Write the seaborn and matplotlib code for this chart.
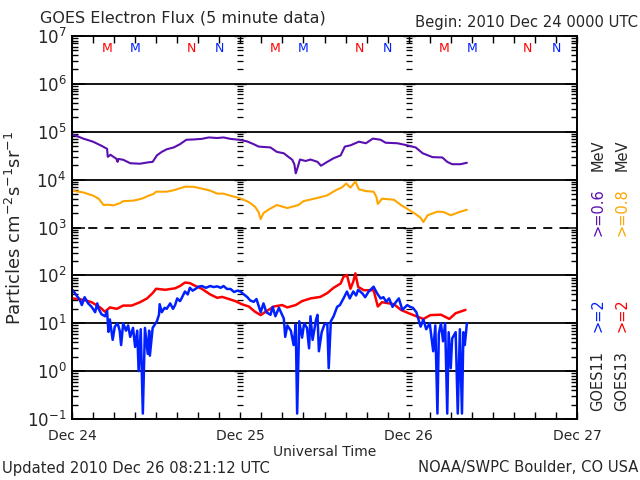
import numpy as np
import pandas as pd
import matplotlib
matplotlib.use("Agg")
import matplotlib.pyplot as plt
import matplotlib.transforms as mtransforms
from matplotlib.ticker import LogLocator, NullFormatter, FixedLocator, FixedFormatter
import seaborn as sns

# ---------------- data (hours since 2010 Dec 24 00:00 UTC) ----------------
purple_t = [0, 1.6, 3.0, 4.2, 5.0, 5.1, 5.5, 5.9, 6.3, 6.5, 6.6, 7.3, 8.3, 9.7, 10.9, 11.5, 12.1,
            12.8, 13.5, 14.5, 15.4, 16.3, 17.3, 18.5, 19.5, 20.7, 21.6, 22.6, 23.8, 24.95, 25.9,
            26.6, 28.3, 29.2, 30.2, 30.9, 31.4, 31.7, 31.9, 32.2, 32.5, 33.3, 34.0, 35.0, 35.5,
            36.4, 37.3, 38.3, 38.9, 39.7, 40.9, 41.9, 42.9, 44.0, 44.7, 46.4, 47.8, 49.0, 50.0,
            51.4, 52.8, 53.5, 54.2, 55.4, 56.3]
purple_v = [89000, 72000, 62000, 51000, 44000, 30000, 33000, 30000, 27500, 23500, 27000, 26000,
            22000, 21500, 23000, 23500, 32000, 38000, 43000, 47000, 55000, 68000, 69000, 71000,
            76000, 74000, 76000, 71000, 68000, 63000, 55000, 49000, 47000, 38000, 35500, 29500,
            26000, 21000, 13500, 18500, 26300, 24500, 26300, 23500, 19500, 23500, 28000, 32000,
            49000, 52000, 62000, 57500, 72000, 68000, 59000, 57500, 52000, 47000, 35500, 29500,
            29000, 23500, 21000, 21000, 22500]

orange_t = [0, 1.6, 3.05, 3.8, 4.5, 5.1, 5.9, 6.9, 7.3, 8.8, 9.95, 10.9, 11.6, 12.0, 13.5, 14.5,
            15.4, 16.1, 17.3, 18.5, 19.7, 20.7, 21.6, 22.6, 23.8, 24.95, 25.4, 26.1, 26.6, 26.9,
            27.3, 28.0, 29.2, 30.7, 32.3, 33.0, 35.0, 36.4, 37.6, 38.5, 39.1, 39.7, 40.4, 40.9,
            41.9, 43.0, 43.4, 43.6, 44.2, 45.9, 46.9, 48.0, 49.0, 49.7, 50.1, 50.7, 52.1, 53.0,
            54.0, 55.2, 56.3]
orange_v = [5900, 5400, 4600, 4000, 2950, 3000, 2900, 3250, 3550, 3650, 4000, 4600, 5000, 5600,
            5600, 6000, 6600, 7100, 7100, 6500, 5900, 5100, 5100, 4600, 4150, 3550, 3250, 2700,
            2100, 1500, 2000, 2350, 2950, 2550, 2950, 3550, 4150, 4700, 6000, 6900, 8300, 6800,
            9100, 6300, 5750, 5600, 4350, 3100, 4000, 3800, 2950, 2350, 1900, 1600, 1300, 1800,
            2150, 2100, 1800, 2100, 2350]

red_t = [0.1, 1.6, 2.8, 4.0, 4.7, 5.4, 6.4, 7.3, 8.5, 9.7, 10.7, 11.5, 12.0, 13.3, 14.7, 15.4,
         16.1, 16.8, 17.6, 18.5, 19.7, 20.7, 21.4, 22.1, 23.3, 24.2, 25.2, 26.1, 26.9, 27.6, 28.8,
         29.95, 30.7, 31.9, 32.8, 34.0, 35.4, 36.4, 37.3, 38.3, 38.7, 39.2, 39.7, 40.1, 40.4,
         40.8, 41.6, 43.0, 43.6, 44.2, 45.9, 46.9, 48.0, 49.2, 50.1, 51.1, 52.6, 53.8, 54.7, 56.1]
red_v = [33, 31, 27.5, 21.4, 17.4, 21.4, 20, 23.4, 23.4, 27.5, 33, 42.7, 52.5, 50, 53.7, 60,
         70.8, 69, 60, 52.5, 40, 34, 35.5, 33, 29, 25, 22.4, 17.4, 14.8, 17.4, 22.4, 24, 21.4, 24,
         29, 33, 35.5, 42.7, 55, 67.6, 93, 102, 52.5, 74, 110, 57.5, 49, 49, 22.4, 27.5, 25, 19,
         16.2, 13.8, 12.3, 14.8, 15.1, 12.3, 16.2, 19]

blue_t = [0.1, 0.6, 1.1, 1.4, 1.8, 2.3, 2.8, 3.3, 3.6, 3.8, 4.2, 4.7, 5.0, 5.2, 5.4, 5.8, 6.1,
          6.5, 6.8, 7.0, 7.3, 7.7, 8.0, 8.3, 8.7, 9.0, 9.3, 9.5, 9.8, 10.1, 10.4, 10.8, 11.0,
          11.1, 11.5, 12.1, 12.4, 12.5, 12.8, 13.2, 13.5, 14.0, 14.4, 14.7, 15.0, 15.4, 15.7,
          16.1, 16.5, 16.8, 17.2, 17.6, 18.0, 18.5, 19.1, 19.7, 20.2, 20.7, 21.2, 21.6, 22.1,
          22.6, 23.1, 23.6, 24.0, 24.5, 25.0, 25.4, 25.9, 26.3, 26.9, 27.3, 27.7, 28.3, 28.6,
          29.0, 29.5, 30.2, 30.4, 30.7, 31.2, 31.6, 31.9, 32.1, 32.4, 32.8, 33.1, 33.5, 33.8,
          34.0, 34.3, 34.8, 35.0, 35.2, 35.6, 36.0, 36.4, 36.6, 36.9, 37.3, 37.8, 38.2, 38.8,
          39.2, 39.6, 40.1, 40.5, 40.8, 41.4, 41.8, 42.3, 43.0, 43.5, 44.0, 44.4, 44.8, 45.2,
          45.7, 46.2, 46.6, 47.1, 47.8, 48.2, 48.6, 49.1, 49.7, 50.1, 50.5, 51.0, 51.5, 51.8,
          52.1, 52.3, 52.6, 52.9, 53.2, 53.5, 53.7, 54.0, 54.2, 54.7, 55.0, 55.3, 55.6, 55.8,
          56.0, 56.3]
blue_v = [49, 39, 31, 24, 35, 26, 22, 17, 26, 20, 15.5, 14, 18, 6.6, 12, 4.5, 8.5, 10, 7, 3.5,
          10, 7, 9, 5.2, 8, 3.2, 7, 1.0, 7.5, 0.13, 8, 2.3, 7, 2.1, 8, 11, 15, 25, 17, 21, 20, 26,
          20, 24, 33, 29, 35, 46, 40, 55, 48, 52, 58, 60, 55, 60, 57, 59, 55, 60, 52, 52, 45, 48,
          46, 40, 35, 30, 28, 32, 17, 26, 17, 15, 22, 14, 21, 12.5, 5.2, 9, 7, 3.5, 9.5, 0.13,
          11, 5, 10, 8, 3, 14, 4.5, 12, 15, 2.6, 6.5, 9.5, 10, 1.15, 11, 14, 22, 24, 35, 46, 33,
          46, 38, 50, 42, 35, 46, 58, 42, 33, 35, 28, 33, 22, 28, 33, 19, 24, 22, 21, 17, 8.5, 12,
          7.5, 10, 2.6, 9, 0.13, 6, 10, 4.2, 10, 0.13, 6.5, 1.15, 4.8, 6.5, 0.13, 7.5, 0.13, 6.5,
          3.5, 10]

day_labels = ["Dec 24", "Dec 25", "Dec 26", "Dec 27"]
day_hours = [0, 24, 48, 72]
goes13_midnight = [5, 29, 53]
goes11_midnight = [9, 33, 57]
goes13_noon = [17, 41, 65]
goes11_noon = [21, 45, 69]

C_PURPLE = "#5a0fb0"
C_ORANGE = "#ffa500"
C_RED = "#ff0000"
C_BLUE = "#0020ff"

# ---------------- figure ----------------
sns.set_style("ticks")
plt.rcParams["font.family"] = ["DejaVu Sans"]

fig = plt.figure(figsize=(6.4, 4.8), dpi=100)
ax = fig.add_axes([72 / 640, 1 - 419 / 480, (577 - 72) / 640, (419 - 36) / 480])
ax.set_yscale("log")

series = [
    (purple_t, purple_v, C_PURPLE, 1.5),
    (orange_t, orange_v, C_ORANGE, 1.5),
    (red_t, red_v, C_RED, 1.8),
    (blue_t, blue_v, C_BLUE, 1.8),
]
for t, v, c, lw in series:
    df = pd.DataFrame({"t": t, "v": v})
    sns.lineplot(data=df, x="t", y="v", ax=ax, color=c, lw=lw, estimator=None, sort=False)

ax.set_xlim(0, 72)
ax.set_ylim(0.1, 1e7)

# horizontal reference lines
for d in [1e0, 1e1, 1e2, 1e4, 1e5, 1e6]:
    ax.axhline(d, color="black", lw=1.3, zorder=1)
ax.axhline(1e3, color="black", lw=1.3, ls=(0, (5, 4)), zorder=1)

# day boundary tick marks
decades = np.arange(-1, 7)
minor_pos = np.outer(10.0 ** decades, np.arange(2, 10)).ravel()
major_pos = 10.0 ** np.arange(-1, 8)
for dx in day_hours[1:3]:
    ax.plot([dx] * len(minor_pos), minor_pos, ls="none", marker="_", ms=4.5, mew=0.9,
            color="black", zorder=1)
    ax.plot([dx] * len(major_pos), major_pos, ls="none", marker="_", ms=8, mew=1.0,
            color="black", zorder=1)

# ticks
ax.xaxis.set_major_locator(FixedLocator(day_hours))
ax.xaxis.set_major_formatter(FixedFormatter(day_labels))
ax.xaxis.set_minor_locator(FixedLocator(np.arange(0, 73, 3)))
ax.xaxis.set_minor_formatter(NullFormatter())
ax.yaxis.set_major_locator(LogLocator(base=10, numticks=20))
ax.yaxis.set_minor_locator(LogLocator(base=10, subs=np.arange(2, 10), numticks=100))
ax.yaxis.set_minor_formatter(NullFormatter())
ax.tick_params(axis="both", which="both", direction="in", top=True, right=True, color="black")
ax.tick_params(axis="y", which="major", length=9, width=1.1, labelsize=12, pad=4)
ax.tick_params(axis="y", which="minor", length=4.5, width=1.0)
ax.tick_params(axis="x", which="major", length=5, width=1.0, labelsize=10, pad=7)
ax.tick_params(axis="x", which="minor", length=5, width=1.0)
for s in ax.spines.values():
    s.set_linewidth(1.4)
    s.set_color("black")

ax.set_xlabel("Universal Time", fontsize=10, labelpad=2)
ax.set_ylabel(None)

# M / N markers
trans = mtransforms.blended_transform_factory(ax.transData, ax.transAxes)
for xs, lab, col in [(goes13_midnight, "M", C_RED), (goes11_midnight, "M", C_BLUE),
                     (goes13_noon, "N", C_RED), (goes11_noon, "N", C_BLUE)]:
    for x in xs:
        if x <= 72:
            ax.text(x, 0.968, lab, transform=trans, color=col, fontsize=9,
                    ha="center", va="center")

# texts
fig.text(40 / 640, 1 - 18 / 480, "GOES Electron Flux (5 minute data)", fontsize=11.5,
         ha="left", va="center")
fig.text(638 / 640, 1 - 23 / 480, "Begin: 2010 Dec 24 0000 UTC", fontsize=10.6,
         ha="right", va="center")
fig.text(15 / 640, 1 - 228 / 480, r"Particles cm$^{-2}$s$^{-1}$sr$^{-1}$", fontsize=13,
         rotation=90, ha="center", va="center")
fig.text(2 / 640, 1 - 468 / 480, "Updated 2010 Dec 26 08:21:12 UTC", fontsize=10.6,
         ha="left", va="center")
fig.text(638 / 640, 1 - 468 / 480, "NOAA/SWPC Boulder, CO USA", fontsize=10.6,
         ha="right", va="center")

# right side legend texts
for xc, sat, col_lo, e_lo, col_hi, e_hi in [(598, "GOES11", C_BLUE, ">=2", C_PURPLE, ">=0.6"),
                                             (622, "GOES13", C_RED, ">=2", C_ORANGE, ">=0.8")]:
    fx = xc / 640
    fig.text(fx, 1 - 381 / 480, sat, rotation=90, fontsize=10.5, ha="center", va="center")
    fig.text(fx, 1 - 315 / 480, e_lo, rotation=90, fontsize=10.5, ha="center", va="center",
             color=col_lo)
    fig.text(fx, 1 - 212 / 480, e_hi, rotation=90, fontsize=10.5, ha="center", va="center",
             color=col_hi)
    fig.text(fx, 1 - 155 / 480, "MeV", rotation=90, fontsize=10.5, ha="center", va="center")

fig.savefig("out.png", dpi=100)
